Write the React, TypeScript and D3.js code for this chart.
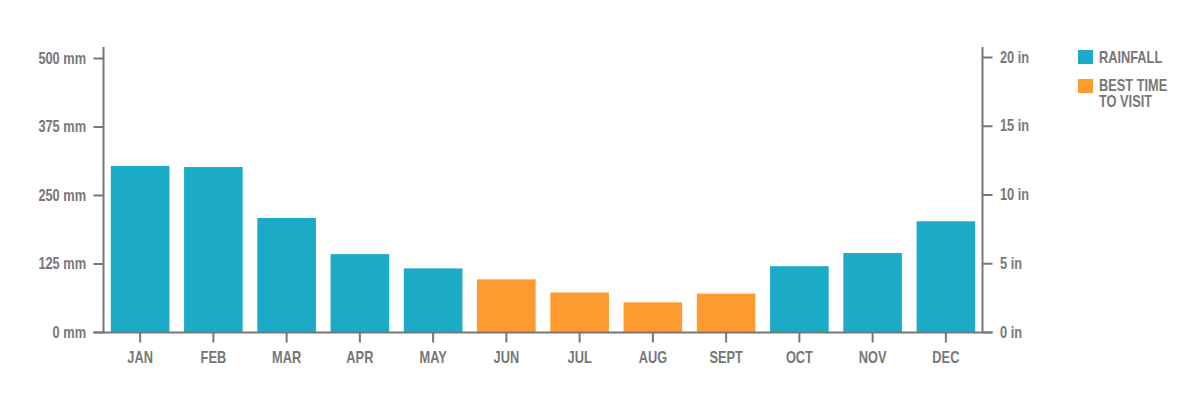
import React from "react";
import * as d3 from "d3";

const months = ["JAN", "FEB", "MAR", "APR", "MAY", "JUN", "JUL", "AUG", "SEPT", "OCT", "NOV", "DEC"];
const rainfallMm = [304, 302, 209, 143, 117, 97, 73, 55, 71, 121, 145, 203];
const bestTime = [false, false, false, false, false, true, true, true, true, false, false, false];
const mmTicks = [0, 125, 250, 375, 500];
const inTicks = [0, 5, 10, 15, 20];

const TEAL = "#1BABC6";
const ORANGE = "#FD9A30";
const GRAY = "#777777";
const FONT = "'Liberation Sans', Arial, sans-serif";
const SX = 0.8;

function Label(props: { x: number; y: number; anchor: "start" | "middle" | "end"; children: React.ReactNode }) {
  return (
    <g transform={`translate(${props.x},${props.y}) scale(${SX},1)`}>
      <text x={0} y={0} dy="0.35em" textAnchor={props.anchor} fontSize={16} fontWeight="bold" fill={GRAY}>
        {props.children}
      </text>
    </g>
  );
}

export default function App() {
  const left = 103.5;
  const right = 982.5;
  const top = 47;
  const bottom = 332.5;
  const x = d3.scaleBand<string>().domain(months).range([left, right]).paddingInner(0.2).paddingOuter(0.1);
  const y = d3.scaleLinear().domain([0, 500]).range([bottom, 58.5]);
  const yIn = d3.scaleLinear().domain([0, 20]).range([bottom, 57.5]);

  return (
    <svg width={1200} height={400} style={{ position: "absolute", left: 0, top: 0, fontFamily: FONT }}>
      {months.map((m, i) => (
        <rect
          key={m}
          x={x(m)}
          y={y(rainfallMm[i])}
          width={x.bandwidth()}
          height={bottom - y(rainfallMm[i])}
          fill={bestTime[i] ? ORANGE : TEAL}
        />
      ))}
      <line x1={left} x2={left} y1={top} y2={bottom} stroke={GRAY} strokeWidth={2} />
      {mmTicks.map((t) => (
        <g key={"l" + t}>
          <line x1={left - 10} x2={left} y1={y(t)} y2={y(t)} stroke={GRAY} strokeWidth={2} />
          <Label x={86} y={y(t) - 0.5} anchor="end">{t} mm</Label>
        </g>
      ))}
      <line x1={right} x2={right} y1={top} y2={bottom} stroke={GRAY} strokeWidth={2} />
      {inTicks.map((t) => (
        <g key={"r" + t}>
          <line x1={right} x2={right + 10} y1={yIn(t)} y2={yIn(t)} stroke={GRAY} strokeWidth={2} />
          <Label x={1000} y={yIn(t) - 0.5} anchor="start">{t} in</Label>
        </g>
      ))}
      <line x1={left - 10} x2={right + 10} y1={bottom} y2={bottom} stroke={GRAY} strokeWidth={2} />
      {months.map((m) => {
        const cx = (x(m) as number) + x.bandwidth() / 2;
        return (
          <g key={"x" + m}>
            <line x1={cx} x2={cx} y1={bottom} y2={bottom + 10} stroke={GRAY} strokeWidth={2} />
            <Label x={cx} y={357} anchor="middle">{m}</Label>
          </g>
        );
      })}
      <rect x={1078} y={50} width={15} height={14} fill={TEAL} />
      <Label x={1099} y={57} anchor="start">RAINFALL</Label>
      <rect x={1078} y={79} width={15} height={14} fill={ORANGE} />
      <Label x={1099} y={85} anchor="start">BEST TIME</Label>
      <Label x={1099} y={101} anchor="start">TO VISIT</Label>
    </svg>
  );
}
